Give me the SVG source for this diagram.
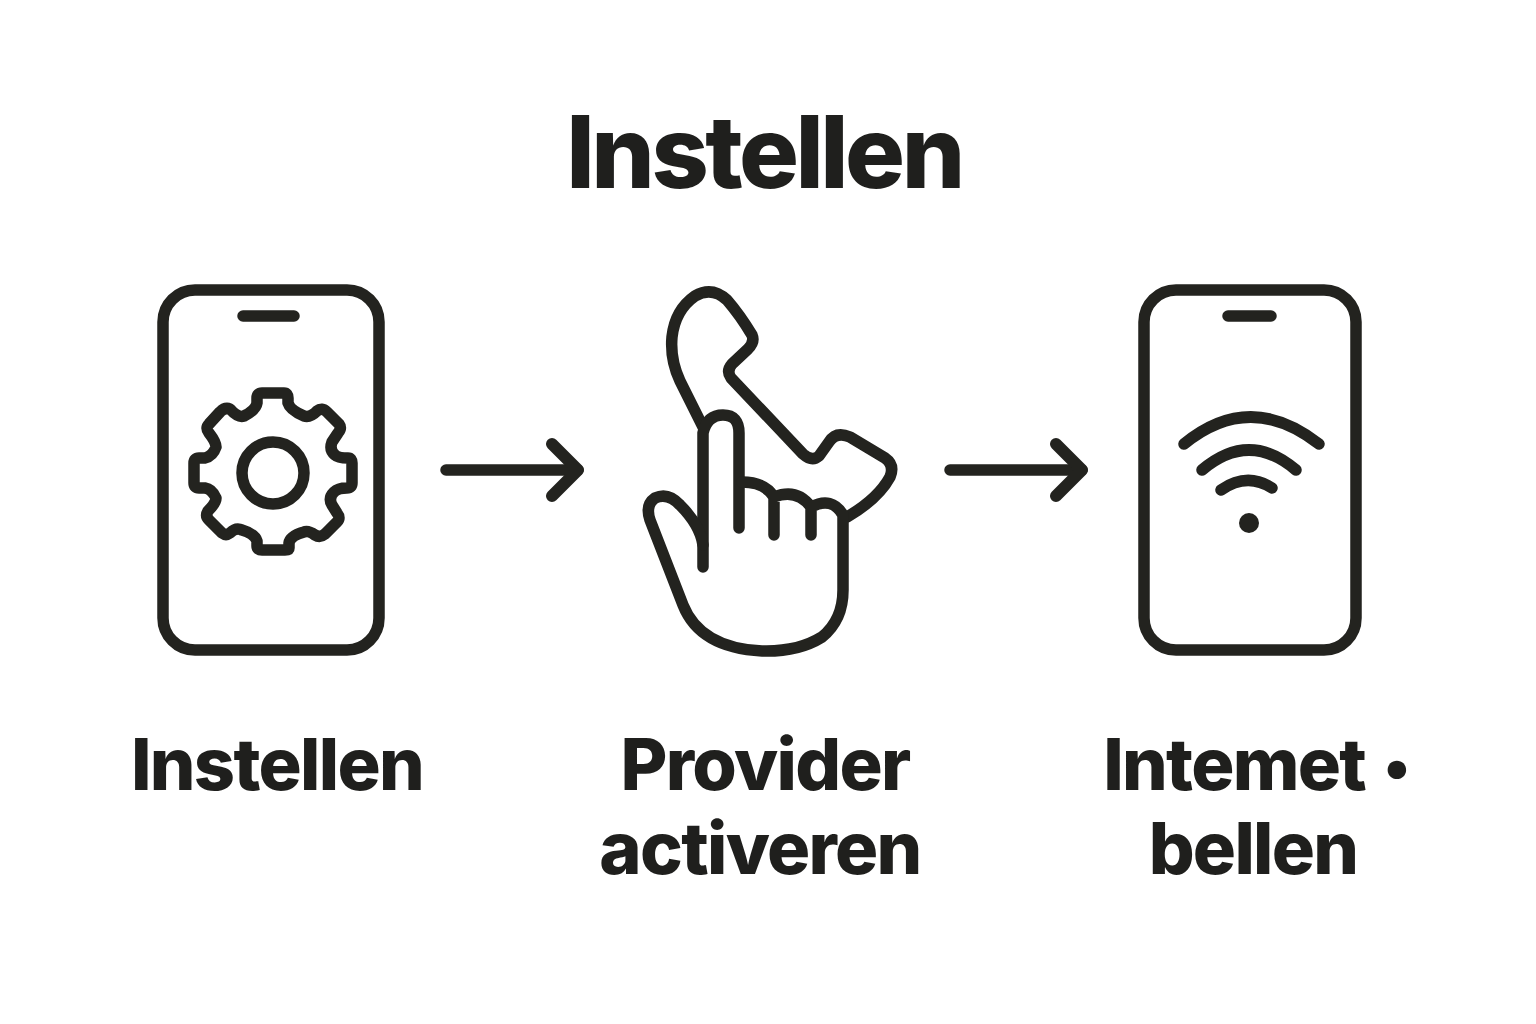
<svg xmlns="http://www.w3.org/2000/svg" width="1536" height="1024" viewBox="0 0 1536 1024">
<style>
text{font-family:"Inter","Liberation Sans",sans-serif;font-weight:800;fill:#1f1f1d;text-anchor:middle}
.t{font-size:100px;letter-spacing:-3.5px}
.l{font-size:72px;letter-spacing:-1.7px}
.s{fill:none;stroke:#23231f;stroke-width:11.5;stroke-linecap:round;stroke-linejoin:round}
.f{fill:#23231f}
</style>
<defs><marker id="a" markerUnits="userSpaceOnUse" markerWidth="50" markerHeight="70" refX="35" refY="35" orient="auto"><path d="M9 9L35 35L9 61" fill="none" stroke="#23231f" stroke-width="12" stroke-linecap="round" stroke-linejoin="round"/></marker></defs>
<rect width="1536" height="1024" fill="#fff"/>
<text class="t" x="764" y="188">Instellen</text>
<g id="node-settings">
<rect class="s" x="163" y="290" width="216" height="360" rx="32"/>
<path class="s" d="M243 316H294" stroke-width="9"/>
<circle class="s" cx="273" cy="473" r="31"/>
<path class="s" d="M262 393H284Q288 393 288 398V403Q290 410 304 416Q310 418 317 411Q322 407 327 412L339 424Q342 428 338 433L332 442Q329 450 335 455Q338 458 348 458Q352 458 352 463V483Q352 488 347 488Q338 488 334 492Q328 498 332 505L337 513Q341 518 337 522L325 534Q320 538 315 535Q308 530 304 532Q290 536 289 543V548Q289 550 285 550H262Q257 550 257 546V541Q255 534 242 530Q236 527 230 533Q226 536 222 533L209 520Q205 516 208 511Q216 503 216 498Q212 489 205 488H199Q194 488 194 483V463Q194 458 199 458H205Q213 456 216 447Q216 442 209 433Q205 428 209 424L220 412Q225 407 230 409Q238 418 244 416Q256 410 257 403V398Q257 393 262 393Z"/>
<text class="l" x="277" y="790">Instellen</text>
</g>
<g id="node-provider">
<path class="s" d="M703 427L680 381Q670 360 672 337Q675 310 695 296Q712 286 727 300Q740 315 752 335Q755 342 748 349L732 364Q726 371 731 378L803 454Q812 462 819 456L829 442Q836 431 850 437L885 458Q895 465 890 477Q878 499 847 517"/>
<path class="s" d="M703 567V433Q707 415 723 415Q739 415 739 433V528"/>
<path class="s" d="M742 482Q765 482 774 497V535M774 497Q797 488 811 507V535M811 507Q832 496 843 515V590Q843 620 822 637Q798 652 762 651Q700 648 683 605L650 520Q645 505 655 498Q668 492 680 505Q700 525 703 545"/>
<text class="l" x="765" y="790">Provider</text>
<text class="l" x="760" y="874">activeren</text>
</g>
<g id="node-internet">
<rect class="s" x="1144" y="290" width="212" height="360" rx="32"/>
<path class="s" d="M1228 316H1271" stroke-width="9"/>
<path class="s" d="M1184 444Q1250 390 1319 444M1202 470Q1249 430 1296 470M1221 490Q1247 472 1272 488"/>
<circle class="f" cx="1249" cy="523" r="10"/>
<text class="l" x="1258" y="790">Intemet <tspan font-size="100" dy="14">·</tspan></text>
<text class="l" x="1253" y="874">bellen</text>
</g>
<g id="connectors">
<path class="s" d="M446 470H578" marker-end="url(#a)"/>
<path class="s" d="M950 470H1082" marker-end="url(#a)"/>
</g>
</svg>
